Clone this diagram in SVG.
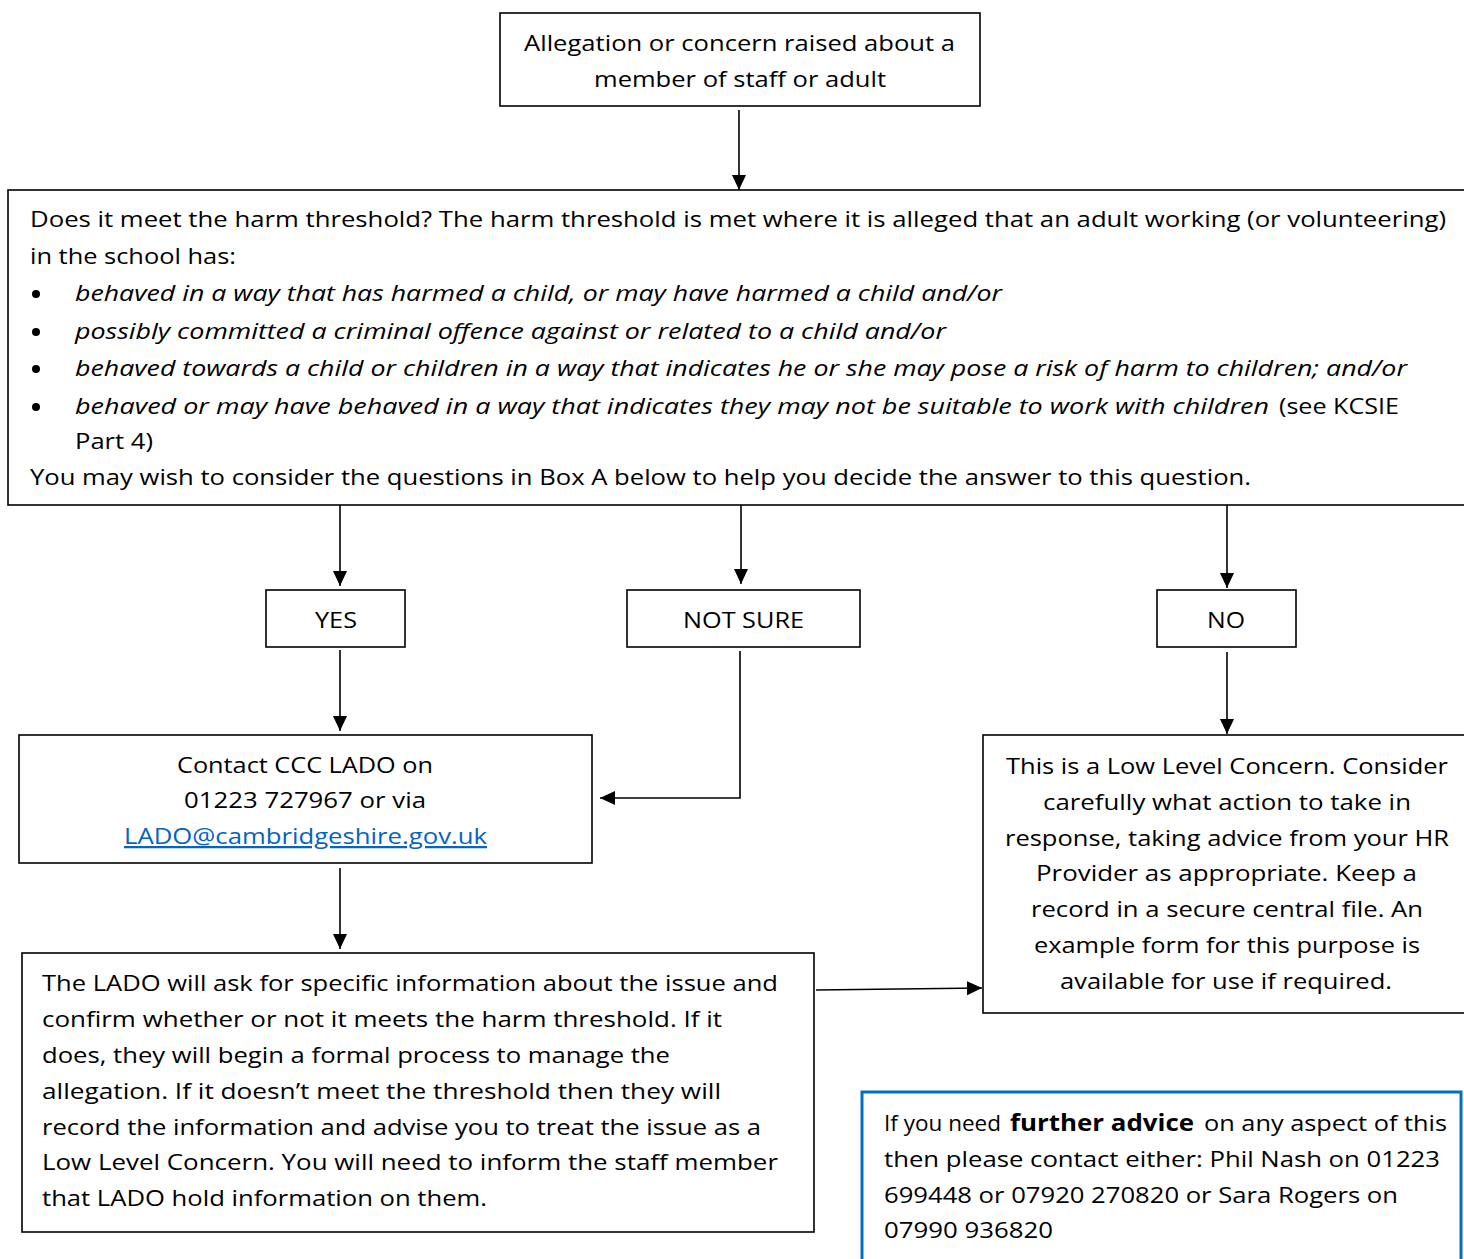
<svg xmlns="http://www.w3.org/2000/svg" width="1464" height="1259" viewBox="0 0 1464 1259">
<defs>
<marker id="ah" markerUnits="userSpaceOnUse" markerWidth="14" markerHeight="16" refX="15" refY="7" orient="auto">
<path d="M0,0 L15,7 L0,14 z" fill="#000"/>
</marker>
<style>
text{font-family:"Open Sans","Liberation Sans",sans-serif;font-size:22.5px;fill:#000}
.box{fill:#fff;stroke:#000;stroke-width:1.6}
.it{font-style:italic}
.b{font-weight:bold}
.link{fill:#0563C1;text-decoration:underline}
.con{fill:none;stroke:#000;stroke-width:1.6;marker-end:url(#ah)}
</style>
</defs>
<rect width="1464" height="1259" fill="#fff"/>
<g id="connectors">
<path class="con" d="M739,110 V190"/>
<path class="con" d="M340,505 V586"/>
<path class="con" d="M741,505 V584"/>
<path class="con" d="M1227,505 V588"/>
<path class="con" d="M340,650 V731"/>
<path class="con" d="M740,651 V798 H600"/>
<path class="con" d="M1227,652 V734"/>
<path class="con" d="M340,868 V949"/>
<path class="con" d="M816,990 L982,988"/>
</g>
<g id="n-allegation">
<rect class="box" x="500" y="13" width="480" height="93"/>
<text x="524" y="51" textLength="431" lengthAdjust="spacingAndGlyphs">Allegation or concern raised about a</text>
<text x="594" y="87" textLength="292" lengthAdjust="spacingAndGlyphs">member of staff or adult</text>
</g>
<g id="n-threshold">
<rect class="box" x="8" y="190" width="1470" height="315"/>
<text x="30" y="227" textLength="1416" lengthAdjust="spacingAndGlyphs">Does it meet the harm threshold? The harm threshold is met where it is alleged that an adult working (or volunteering)</text>
<text x="30" y="264" textLength="206" lengthAdjust="spacingAndGlyphs">in the school has:</text>
<circle cx="36" cy="294" r="4"/>
<text class="it" x="75" y="301" textLength="927" lengthAdjust="spacingAndGlyphs">behaved in a way that has harmed a child, or may have harmed a child and/or</text>
<circle cx="36" cy="332" r="4"/>
<text class="it" x="75" y="339" textLength="871" lengthAdjust="spacingAndGlyphs">possibly committed a criminal offence against or related to a child and/or</text>
<circle cx="36" cy="369" r="4"/>
<text class="it" x="75" y="376" textLength="1332" lengthAdjust="spacingAndGlyphs">behaved towards a child or children in a way that indicates he or she may pose a risk of harm to children; and/or</text>
<circle cx="36" cy="407" r="4"/>
<text class="it" x="75" y="414" textLength="1194" lengthAdjust="spacingAndGlyphs">behaved or may have behaved in a way that indicates they may not be suitable to work with children</text>
<text x="1279" y="414" textLength="120" lengthAdjust="spacingAndGlyphs">(see KCSIE</text>
<text x="75" y="449" textLength="78" lengthAdjust="spacingAndGlyphs">Part 4)</text>
<text x="30" y="485" textLength="1221" lengthAdjust="spacingAndGlyphs">You may wish to consider the questions in Box A below to help you decide the answer to this question.</text>
</g>
<g id="n-yes">
<rect class="box" x="266" y="590" width="139" height="57"/>
<text x="315" y="628" textLength="42" lengthAdjust="spacingAndGlyphs">YES</text>
</g>
<g id="n-notsure">
<rect class="box" x="627" y="590" width="233" height="57"/>
<text x="683" y="628" textLength="121" lengthAdjust="spacingAndGlyphs">NOT SURE</text>
</g>
<g id="n-no">
<rect class="box" x="1157" y="590" width="139" height="57"/>
<text x="1207" y="628" textLength="38" lengthAdjust="spacingAndGlyphs">NO</text>
</g>
<g id="n-contact">
<rect class="box" x="19" y="735" width="573" height="128"/>
<text x="177" y="773" textLength="256" lengthAdjust="spacingAndGlyphs">Contact CCC LADO on</text>
<text x="184" y="808" textLength="242" lengthAdjust="spacingAndGlyphs">01223 727967 or via</text>
<text class="link" x="124" y="844" textLength="363" lengthAdjust="spacingAndGlyphs">LADO@cambridgeshire.gov.uk</text>
</g>
<g id="n-lowlevel">
<rect class="box" x="983" y="735" width="495" height="278"/>
<text x="1006" y="774" textLength="442" lengthAdjust="spacingAndGlyphs">This is a Low Level Concern. Consider</text>
<text x="1043" y="810" textLength="368" lengthAdjust="spacingAndGlyphs">carefully what action to take in</text>
<text x="1005" y="846" textLength="444" lengthAdjust="spacingAndGlyphs">response, taking advice from your HR</text>
<text x="1036" y="881" textLength="381" lengthAdjust="spacingAndGlyphs">Provider as appropriate.  Keep a</text>
<text x="1031" y="917" textLength="392" lengthAdjust="spacingAndGlyphs">record in a secure central file. An</text>
<text x="1034" y="953" textLength="386" lengthAdjust="spacingAndGlyphs">example form for this purpose is</text>
<text x="1060" y="989" textLength="332" lengthAdjust="spacingAndGlyphs">available for use if required.</text>
</g>
<g id="n-lado">
<rect class="box" x="22" y="953" width="792" height="279"/>
<text x="42" y="991" textLength="736" lengthAdjust="spacingAndGlyphs">The LADO will ask for specific information about the issue and</text>
<text x="42" y="1027" textLength="680" lengthAdjust="spacingAndGlyphs">confirm whether or not it meets the harm threshold.  If it</text>
<text x="42" y="1063" textLength="628" lengthAdjust="spacingAndGlyphs">does, they will begin a formal process to manage the</text>
<text x="42" y="1099" textLength="679" lengthAdjust="spacingAndGlyphs">allegation.  If it doesn’t meet the threshold then they will</text>
<text x="42" y="1135" textLength="719" lengthAdjust="spacingAndGlyphs">record the information and advise you to treat the issue as a</text>
<text x="42" y="1170" textLength="736" lengthAdjust="spacingAndGlyphs">Low Level Concern.  You will need to inform the staff member</text>
<text x="42" y="1206" textLength="445" lengthAdjust="spacingAndGlyphs">that LADO hold information on them.</text>
</g>
<g id="n-advice">
<rect x="862" y="1092" width="599" height="220" fill="#fff" stroke="#0070C0" stroke-width="3"/>
<text x="884" y="1131" textLength="117" lengthAdjust="spacingAndGlyphs">If you need</text>
<text class="b" x="1010" y="1131" textLength="184" lengthAdjust="spacingAndGlyphs">further advice</text>
<text x="1204" y="1131" textLength="243" lengthAdjust="spacingAndGlyphs">on any aspect of this</text>
<text x="884" y="1167" textLength="556" lengthAdjust="spacingAndGlyphs">then please contact either: Phil Nash on 01223</text>
<text x="884" y="1203" textLength="514" lengthAdjust="spacingAndGlyphs">699448 or 07920 270820 or Sara Rogers on</text>
<text x="884" y="1238" textLength="169" lengthAdjust="spacingAndGlyphs">07990 936820</text>
</g>
</svg>
